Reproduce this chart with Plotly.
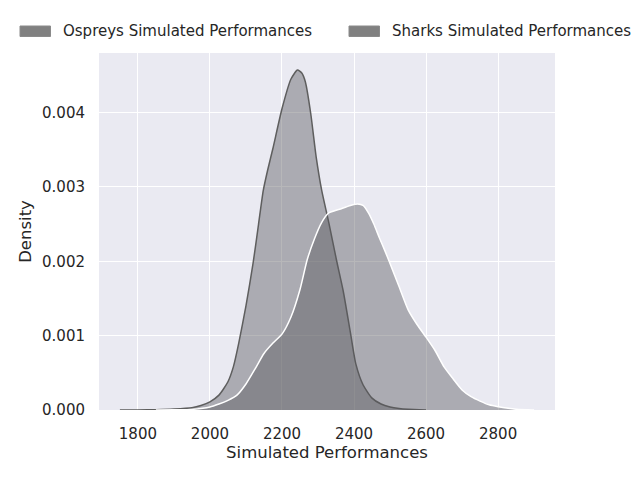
import plotly.graph_objects as go

# KDE curves
ospreys_x = [1750, 1800, 1850, 1900, 1950, 1975, 2000, 2025, 2050, 2065, 2080,
             2100, 2120, 2135, 2148, 2160, 2175, 2200, 2225, 2243, 2255, 2265,
             2280, 2295, 2310, 2330, 2352, 2370, 2390, 2405, 2425, 2450, 2475,
             2500, 2525, 2550, 2600]
ospreys_d = [0.0, 0.000001, 0.000004, 0.000012, 0.00003, 0.00006, 0.00011,
             0.00020, 0.00038, 0.00058, 0.00090, 0.00140, 0.00198, 0.00250,
             0.00295, 0.00322, 0.00352, 0.00405, 0.00445, 0.00457, 0.00453,
             0.00441, 0.00398, 0.00340, 0.00296, 0.00252, 0.00200, 0.00160,
             0.00104, 0.00062, 0.00034, 0.00016, 0.00008, 0.00004, 0.00002,
             0.00001, 0.000001]

sharks_x = [1850, 1900, 1950, 2000, 2025, 2050, 2075, 2100, 2125, 2150, 2175,
            2200, 2225, 2250, 2270, 2290, 2310, 2330, 2360, 2390, 2410, 2425,
            2440, 2455, 2470, 2485, 2500, 2525, 2550, 2575, 2600, 2625, 2650,
            2675, 2700, 2725, 2750, 2775, 2800, 2850, 2900]
sharks_d = [0.0, 0.000002, 0.000008, 0.00004, 0.00008, 0.00013, 0.00020,
            0.00035, 0.00055, 0.00076, 0.00090, 0.00102, 0.00125, 0.00162,
            0.00202, 0.00230, 0.00252, 0.00265, 0.00270, 0.00275, 0.00277,
            0.00275, 0.00265, 0.00250, 0.00232, 0.00215, 0.00197, 0.00166,
            0.00135, 0.00115, 0.00098, 0.00080, 0.00058, 0.00042, 0.00027,
            0.00018, 0.00012, 0.00007, 0.000045, 0.00001, 0.000001]

series_names = ['Ospreys Simulated Performances', 'Sharks Simulated Performances']

x_ticks = [1800, 2000, 2200, 2400, 2600, 2800]
y_ticks = [0.000, 0.001, 0.002, 0.003, 0.004]

fill = 'rgba(88,87,93,0.43)'
text_color = '#262626'

fig = go.Figure()
fig.add_trace(go.Scatter(
    x=ospreys_x, y=ospreys_d, name=series_names[0],
    mode='lines', line=dict(color='#5e5e5e', width=1.5, shape='spline', smoothing=0.6),
    fill='tozeroy', fillcolor=fill, showlegend=False,
))
fig.add_trace(go.Scatter(
    x=sharks_x, y=sharks_d, name=series_names[1],
    mode='lines', line=dict(color='white', width=1.5, shape='spline', smoothing=0.6),
    fill='tozeroy', fillcolor=fill, showlegend=False,
))

# page body adds an 8px offset, so everything is placed 8px up/left
OFF = 8
L, R, T, B = 99 - OFF, 555 - OFF, 53 - OFF, 410 - OFF
W, H = R - L, B - T


def px_x(p):
    return (p - OFF - L) / W


def px_y(p):
    return (B - (p - OFF)) / H


# legend drawn like matplotlib's: grey patches above the axes
for name, left in zip(series_names, [20, 349]):
    fig.add_shape(type='rect', xref='paper', yref='paper',
                  x0=px_x(left), x1=px_x(left + 30.5), y0=px_y(36.5), y1=px_y(26),
                  fillcolor='#808080', line=dict(color='#8a8a8a', width=1))
    fig.add_annotation(text=name, xref='paper', yref='paper',
                       x=px_x(left + 41), y=px_y(31), xanchor='left', yanchor='middle',
                       showarrow=False, font=dict(size=15, color=text_color))

fig.update_layout(
    width=640, height=480,
    margin=dict(l=L, r=640 - R, t=T, b=480 - B, autoexpand=False),
    paper_bgcolor='white',
    plot_bgcolor='#eaeaf2',
    font=dict(family='DejaVu Sans', color=text_color, size=15),
)
fig.update_xaxes(
    range=[1692, 2958], tickvals=x_ticks,
    showgrid=True, gridcolor='white', gridwidth=1.3, zeroline=False,
    showline=False, ticks='outside', ticklen=10, tickcolor='rgba(0,0,0,0)',
    tickfont=dict(size=15),
    title=dict(text='Simulated Performances', font=dict(size=16.5), standoff=4),
)
fig.update_yaxes(
    range=[0, 0.0048], tickvals=y_ticks, tickformat='.3f',
    showgrid=True, gridcolor='white', gridwidth=1.3, zeroline=False,
    showline=False, ticks='outside', ticklen=10, tickcolor='rgba(0,0,0,0)',
    tickfont=dict(size=15),
    title=dict(text='Density', font=dict(size=16.5), standoff=6),
)

fig.write_html('out.html')
